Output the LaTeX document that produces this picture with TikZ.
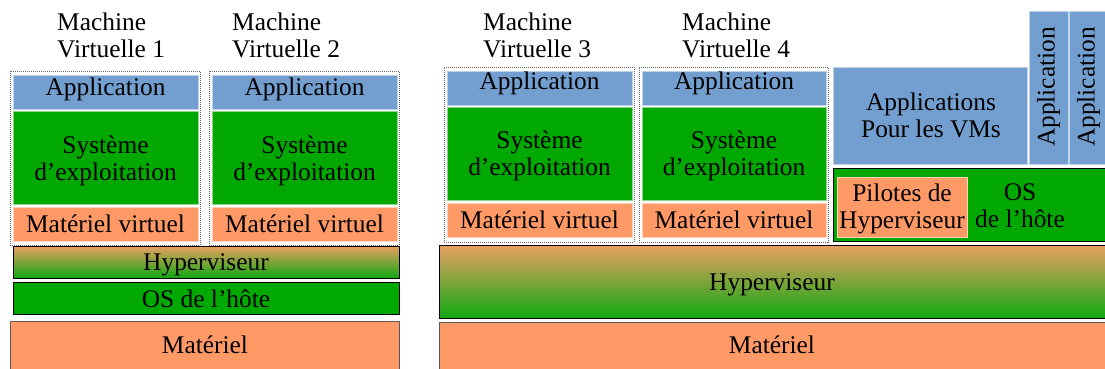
\documentclass[tikz,border=0pt]{standalone}
\usepackage{fontspec}
\setmainfont{Liberation Serif}
\definecolor{appblue}{HTML}{729FCF}
\definecolor{osgreen}{HTML}{00A800}
\definecolor{hworange}{HTML}{FF9966}
\definecolor{hyptop}{HTML}{E9A062}
\definecolor{hypbot}{HTML}{10A812}
\tikzset{
  box/.style={anchor=north west, inner sep=0pt, outer sep=0pt, line width=0.8pt},
  appbox/.style={box, fill=appblue, draw=white!55!appblue},
  osbox/.style={box, fill=osgreen, draw=white!55!osgreen},
  hwbox/.style={box, fill=hworange, draw=white!55!hworange},
  vmframe/.style={box, draw=black!60, dash pattern=on 1pt off 1pt},
  hypbox/.style={box, draw=black, top color=hyptop, bottom color=hypbot, middle color=hyptop!50!hypbot},
  hostbox/.style={box, fill=osgreen, draw=black},
  matbox/.style={box, fill=hworange, draw=black!65},
  lbl/.style={font=\fontsize{25.4}{27}\selectfont, inner sep=0pt, anchor=base, align=center},
  vmlbl/.style={font=\fontsize{25.4}{26.5}\selectfont, inner sep=0pt, anchor=base west, align=left}
}
\begin{document}
\begin{tikzpicture}[x=1pt,y=-1pt]
\useasboundingbox (0,0) rectangle (1105,369);
\clip (0,0) rectangle (1105,369);
\fill[white] (0,0) rectangle (1105,369);
% ---------- Left stack ----------
\node[vmlbl] (vm1l) at (57,57) {Machine\\Virtuelle 1};
\node[vmlbl] (vm2l) at (232,57) {Machine\\Virtuelle 2};
\node[vmframe, minimum width=190, minimum height=174] (vm1) at (10,71) {};
\node[vmframe, minimum width=190, minimum height=174] (vm2) at (209,71) {};
\node[appbox, minimum width=185, minimum height=34] (app1) at (13,75) {};
\node[osbox, minimum width=185, minimum height=93] (os1) at (13,111) {};
\node[hwbox, minimum width=185, minimum height=34] (mv1) at (13,207) {};
\node[appbox, minimum width=185, minimum height=34] (app2) at (212,75) {};
\node[osbox, minimum width=185, minimum height=93] (os2) at (212,111) {};
\node[hwbox, minimum width=185, minimum height=34] (mv2) at (212,207) {};
\node[hypbox, minimum width=386, minimum height=32] (hyp1) at (13,246) {};
\node[hostbox, minimum width=386, minimum height=32] (host1) at (13,282) {};
\node[matbox, minimum width=389, minimum height=60] (mat1) at (10,321) {};
\node[lbl] (app1t) at (105.5,95) {Application};
\node[lbl] (app2t) at (304.5,95) {Application};
\node[lbl] (os1t) at (105.5,180) {Système\\d’exploitation};
\node[lbl] (os2t) at (304.5,180) {Système\\d’exploitation};
\node[lbl] (mv1t) at (105.5,232) {Matériel virtuel};
\node[lbl] (mv2t) at (304.5,232) {Matériel virtuel};
\node[lbl] (hyp1t) at (206,270) {Hyperviseur};
\node[lbl] (host1t) at (206,307) {OS de l’hôte};
\node[lbl] (mat1t) at (205,353) {Matériel};
% ---------- Right stack ----------
\node[vmlbl] (vm3l) at (483,57) {Machine\\Virtuelle 3};
\node[vmlbl] (vm4l) at (682,57) {Machine\\Virtuelle 4};
\node[vmframe, minimum width=190, minimum height=175] (vm3) at (444,67) {};
\node[vmframe, minimum width=189, minimum height=175] (vm4) at (639,67) {};
\node[appbox, minimum width=185, minimum height=34] (app3) at (447,71) {};
\node[osbox, minimum width=185, minimum height=93] (os3) at (447,107) {};
\node[hwbox, minimum width=185, minimum height=34] (mv3) at (447,203) {};
\node[appbox, minimum width=184, minimum height=34] (app4) at (642,71) {};
\node[osbox, minimum width=184, minimum height=93] (os4) at (642,107) {};
\node[hwbox, minimum width=184, minimum height=34] (mv4) at (642,203) {};
\node[appbox, minimum width=194, minimum height=97] (appvm) at (833,67) {};
\node[appbox, minimum width=39, minimum height=153] (appv1) at (1029,11) {};
\node[appbox, minimum width=39, minimum height=153] (appv2) at (1069,11) {};
\node[hostbox, minimum width=280, minimum height=73] (host2) at (833,168) {};
\node[hwbox, minimum width=130, minimum height=60] (pil) at (837,177) {};
\node[hypbox, minimum width=680, minimum height=73] (hyp2) at (439,245) {};
\node[matbox, minimum width=680, minimum height=60] (mat2) at (439,322) {};
\node[lbl] (app3t) at (539.5,89) {Application};
\node[lbl] (app4t) at (734,89) {Application};
\node[lbl] (os3t) at (539.5,175) {Système\\d’exploitation};
\node[lbl] (os4t) at (734,175) {Système\\d’exploitation};
\node[lbl] (mv3t) at (539.5,228) {Matériel virtuel};
\node[lbl] (mv4t) at (734,228) {Matériel virtuel};
\node[lbl] (appvmt) at (931,137) {Applications\\Pour les VMs};
\node[lbl, anchor=center, rotate=90] (appv1t) at (1048.5,87) {Application};
\node[lbl, anchor=center, rotate=90] (appv2t) at (1088.5,87) {Application};
\node[lbl] (pilt) at (902,228) {Pilotes de\\Hyperviseur};
\node[lbl] (host2t) at (1020,227) {OS\\de l’hôte};
\node[lbl] (hyp2t) at (772,290) {Hyperviseur};
\node[lbl] (mat2t) at (772,353) {Matériel};
\end{tikzpicture}
\end{document}
